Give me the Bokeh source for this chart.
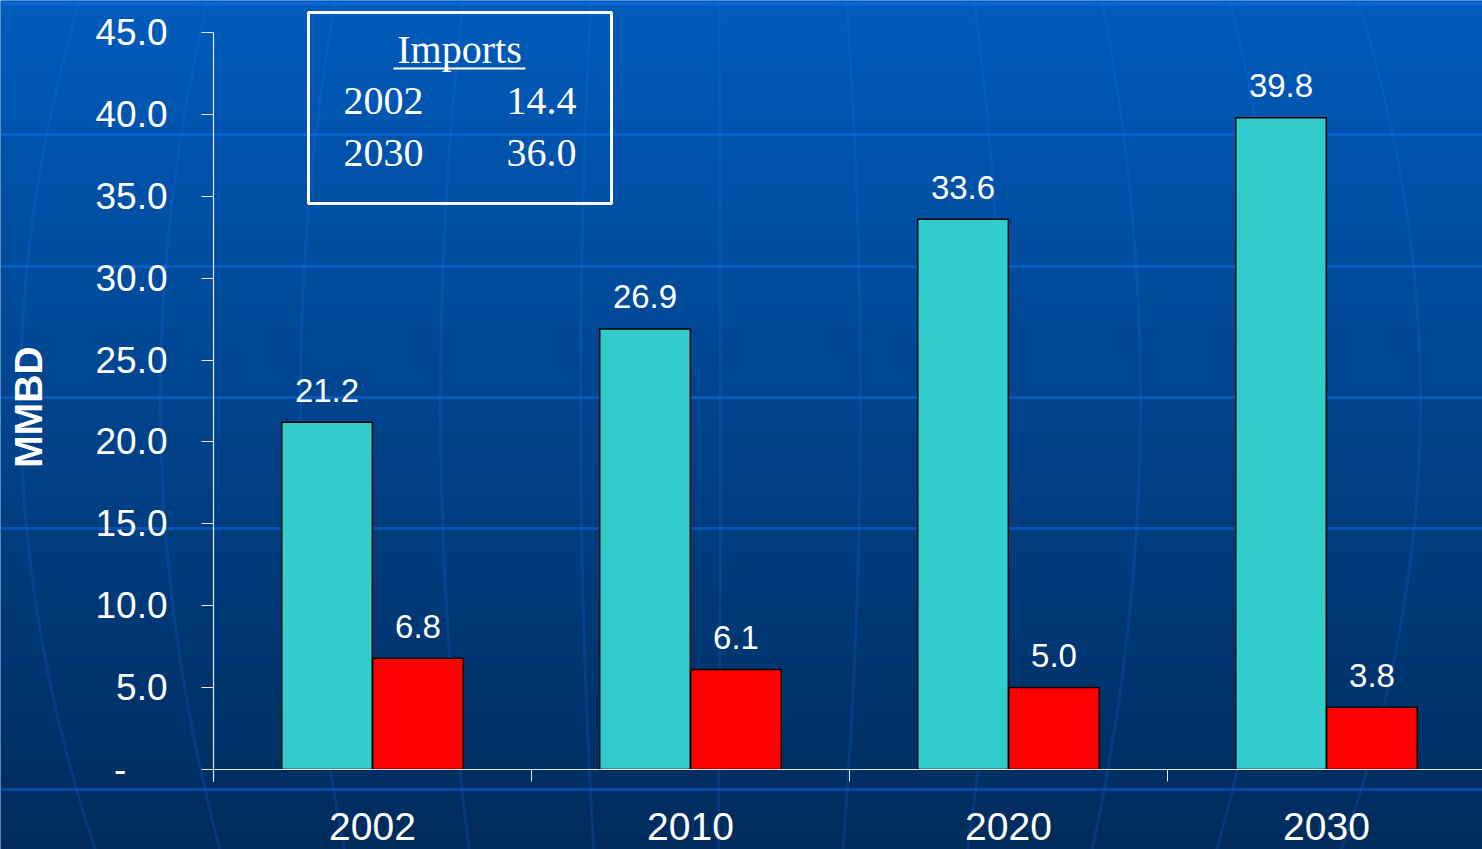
import numpy as np
from bokeh.plotting import figure
from bokeh.models import Range1d, FixedTicker
from bokeh.core.properties import value
from bokeh.embed import file_html
from bokeh.resources import INLINE

# ---------------- data ----------------
years = ["2002", "2010", "2020", "2030"]
consumption = [21.2, 26.9, 33.6, 39.8]      # teal bars
production = [6.8, 6.1, 5.0, 3.8]           # red bars
y_ticks = [0, 5, 10, 15, 20, 25, 30, 35, 40, 45]
y_tick_labels = ["-\u00a0\u00a0\u00a0\u00a0", "5.0", "10.0", "15.0", "20.0",
                 "25.0", "30.0", "35.0", "40.0", "45.0"]
y_label = "MMBD"
inset_title = "Imports"
inset_years = ["2002", "2030"]
inset_values = ["14.4", "36.0"]

# ---------------- layout constants ----------------
W, H = 1482, 849
X0 = 213.0            # pixel of x = 0
GROUP = 318.0         # pixels per category group
Y0 = 769.0            # pixel of y = 0
PPU = 737.0 / 45.0    # pixels per unit of y


def px2x(px):
    return (px - X0) / GROUP


def py2y(py):
    return (Y0 - py) / PPU


p = figure(width=W, height=H, output_backend="svg", toolbar_location=None, tools="",
           x_range=Range1d(px2x(0), px2x(W)), y_range=Range1d(py2y(H), py2y(0)),
           min_border=0, min_border_left=0, min_border_right=0,
           min_border_top=0, min_border_bottom=0)
p.outline_line_color = None
p.xgrid.visible = False
p.ygrid.visible = False
p.border_fill_color = "#00458f"
p.background_fill_color = "#00458f"

# ---------------- background gradient ----------------
top = np.array([0, 92, 188], dtype=float)
bot = np.array([0, 43, 92], dtype=float)
n = H
t = np.linspace(0, 1, n)[:, None]            # row 0 = bottom
cols = bot + (top - bot) * t
img = np.empty((n, 1), dtype=np.uint32)
view = img.view(dtype=np.uint8).reshape((n, 1, 4))
view[:, 0, 0] = cols[:, 0]
view[:, 0, 1] = cols[:, 1]
view[:, 0, 2] = cols[:, 2]
view[:, 0, 3] = 255
p.image_rgba(image=[img], x=px2x(0), y=py2y(H), dw=px2x(W) - px2x(0), dh=py2y(0) - py2y(H))

# decorative horizontal bands
band_px = [3, 134, 266, 397, 528, 789]
p.hspan(y=[py2y(b) for b in band_px], line_color="#1478ff", line_alpha=0.38, line_width=3)

# decorative meridians
ys_px = np.linspace(0, H, 60)
mer_xs, mer_ys = [], []
for k in range(11):
    x0 = 20 + 140 * k
    shift = -0.11 * (x0 - 700) * ((ys_px - 400) / 449.0) ** 2
    mer_xs.append(list(px2x(x0 + shift)))
    mer_ys.append(list(py2y(ys_px)))
p.multi_line(xs=mer_xs, ys=mer_ys, line_color="#1478ff", line_alpha=0.18, line_width=3)

# ---------------- bars ----------------
centers = [i + 0.5 for i in range(len(years))]
off = 0.143
bw = 0.285
p.vbar(x=[c - off for c in centers], top=consumption, bottom=0, width=bw,
       fill_color="#33cccc", line_color="black", line_width=1.5)
p.vbar(x=[c + off for c in centers], top=production, bottom=0, width=bw,
       fill_color="#ff0000", line_color="black", line_width=1.5)

lab_font = value("Liberation Sans")
p.text(x=[c - off for c in centers], y=consumption, text=[f"{v:.1f}" for v in consumption],
       y_offset=-32, text_align="center", text_baseline="alphabetic",
       text_font=lab_font, text_font_size="33px", text_color="white")
p.text(x=[c + off for c in centers], y=production, text=[f"{v:.1f}" for v in production],
       y_offset=-32, text_align="center", text_baseline="alphabetic",
       text_font=lab_font, text_font_size="33px", text_color="white")

# ---------------- axes ----------------
ya = p.yaxis[0]
ya.fixed_location = 0
ya.bounds = (py2y(781), 45)
ya.ticker = FixedTicker(ticks=y_ticks)
ya.major_label_overrides = {t_: l for t_, l in zip(y_ticks, y_tick_labels)}
ya.major_tick_out = 12
ya.major_tick_in = 0
ya.minor_tick_out = 0
ya.minor_tick_in = 0
ya.major_tick_line_color = "#e8e8e8"
ya.axis_line_color = "#e8e8e8"
ya.axis_line_width = 1.2
ya.major_label_standoff = 34
ya.major_label_text_font = "Liberation Sans"
ya.major_label_text_font_size = "37px"
ya.major_label_text_color = "white"
ya.axis_label = y_label
ya.axis_label_text_font = "Liberation Sans"
ya.axis_label_text_font_style = "bold"
ya.axis_label_text_font_size = "39px"
ya.axis_label_text_color = "white"
ya.axis_label_standoff = 42

xa = p.xaxis[0]
xa.fixed_location = 0
xa.bounds = (0, len(years))
xa.ticker = FixedTicker(ticks=centers, minor_ticks=list(range(len(years) + 1)))
xa.major_label_overrides = {c: y for c, y in zip(centers, years)}
xa.major_tick_out = 0
xa.major_tick_in = 0
xa.minor_tick_out = 12
xa.minor_tick_in = 0
xa.minor_tick_line_color = "#e8e8e8"
xa.axis_line_color = "#e8e8e8"
xa.axis_line_width = 1.2
xa.major_label_standoff = 31
xa.major_label_text_font = "Liberation Sans"
xa.major_label_text_font_size = "39px"
xa.major_label_text_color = "white"

# ---------------- inset box ----------------
p.quad(left=px2x(308), right=px2x(611), top=py2y(12), bottom=py2y(203),
       fill_color=None, line_color="white", line_width=3)
serif = value("Liberation Serif")
p.text(x=[px2x(459)], y=[py2y(62)], text=[inset_title], text_align="center",
       text_baseline="alphabetic", y_offset=-13, text_font=serif, text_font_size="40px",
       text_color="white")
p.segment(x0=[px2x(393)], y0=[py2y(68)], x1=[px2x(525)], y1=[py2y(68)],
          line_color="white", line_width=2)
p.text(x=[px2x(343)] * 2, y=[py2y(113), py2y(165)], text=inset_years, text_align="left",
       text_baseline="alphabetic", y_offset=-13, text_font=serif, text_font_size="40px",
       text_color="white")
p.text(x=[px2x(576)] * 2, y=[py2y(113), py2y(165)], text=inset_values, text_align="right",
       text_baseline="alphabetic", y_offset=-13, text_font=serif, text_font_size="40px",
       text_color="white")

open("out.html", "w").write(file_html(p, INLINE))
